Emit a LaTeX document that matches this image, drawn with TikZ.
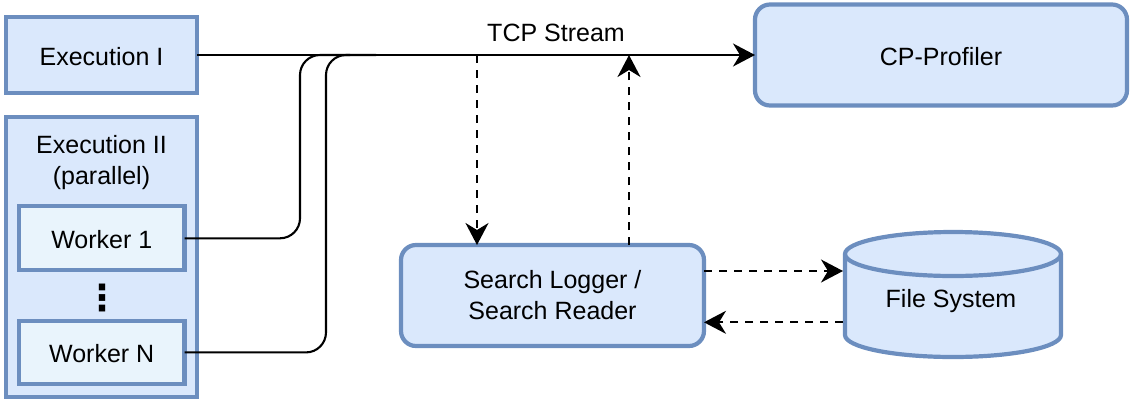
\documentclass[tikz,border=0pt]{standalone}
\usepackage{fontspec}
\setmainfont{Liberation Sans}
\newfontfamily\symfont{DejaVu Sans}
\usetikzlibrary{arrows.meta}
\definecolor{boxfill}{HTML}{DAE8FC}
\definecolor{boxline}{HTML}{6C8EBF}
\definecolor{workerfill}{HTML}{E9F4FC}
\begin{document}
\begin{tikzpicture}[x=1pt, y=-1pt,
  every node/.style={font=\fontsize{25}{31}\selectfont, inner sep=0pt, outer sep=0pt},
  oneline/.style={text height=21pt, text depth=0pt},
  block/.style={draw=boxline, fill=boxfill, line width=4.2pt, rectangle},
  roundblock/.style={block, rounded corners=15pt},
  workerbox/.style={block, fill=workerfill},
  link/.style={line width=2.1pt, draw=black},
  tipped/.style={link, -{Stealth[length=22pt, width=23pt, inset=7pt]}},
  dashlink/.style={tipped, dash pattern=on 8pt off 7pt},
]
\useasboundingbox (0,0) rectangle (1130,400);

% sources
\node[block, oneline, minimum width=191, minimum height=76] (exe1) at (101.5,55) {Execution I};
\node[block, minimum width=191, minimum height=280] (exe2) at (101.5,257) {};
\node[align=center] (exe2title) at (101.5,162.5) {Execution II\\(parallel)};
\node[workerbox, oneline, minimum width=165.5, minimum height=64] (w1) at (101.75,238.3) {Worker 1};
\node[workerbox, oneline, minimum width=165.5, minimum height=63] (wN) at (101.75,352.4) {Worker N};
\node[font=\fontsize{36}{36}\symfont\bfseries] (dots) at (102,298) {⋮};

% receivers
\node[roundblock, oneline, minimum width=372, minimum height=101] (cpp) at (941,55) {CP-Profiler};
\node[roundblock, minimum width=303, minimum height=101, align=center] (slog) at (552.5,295.5) {Search Logger /\\Search Reader};

% file system cylinder
\path[draw=boxline, fill=boxfill, line width=4.2pt]
  (845,254) -- (845,335)
  arc[start angle=180, end angle=360, x radius=108pt, y radius=22pt]
  -- (1061,254)
  arc[start angle=0, end angle=180, x radius=108pt, y radius=22pt] -- cycle;
\draw[draw=boxline, line width=4.2pt]
  (845,254) arc[start angle=180, end angle=360, x radius=108pt, y radius=22pt];
\node[oneline, minimum width=216, minimum height=125] (fs) at (951,296.5) {File System};

% TCP stream
\draw[tipped] (exe1.east) -- (cpp.west);
\node[oneline] (tcp) at (556,31) {TCP Stream};

\coordinate (bend1) at (300,55);
\coordinate (bendN) at (326,55);
\draw[link, rounded corners=20pt] (w1.east) -| (bend1) -- ++(50,0);
\draw[link, rounded corners=20pt] (wN.east) -| (bendN) -- ++(50,0);

% logger taps
\coordinate (tapdown) at (477,55);
\coordinate (tapup) at (629,55);
\draw[dashlink] (tapdown) -- (tapdown |- slog.north);
\draw[dashlink] (tapup |- slog.north) -- (tapup);

% file exchange
\coordinate (fsout) at ([yshift=24.5pt]slog.east);
\coordinate (fsin) at ([yshift=-26.8pt]slog.east);
\draw[dashlink] (fsout) -- (fsout -| fs.west);
\draw[dashlink] (fsin -| fs.west) -- (fsin);
\end{tikzpicture}
\end{document}
